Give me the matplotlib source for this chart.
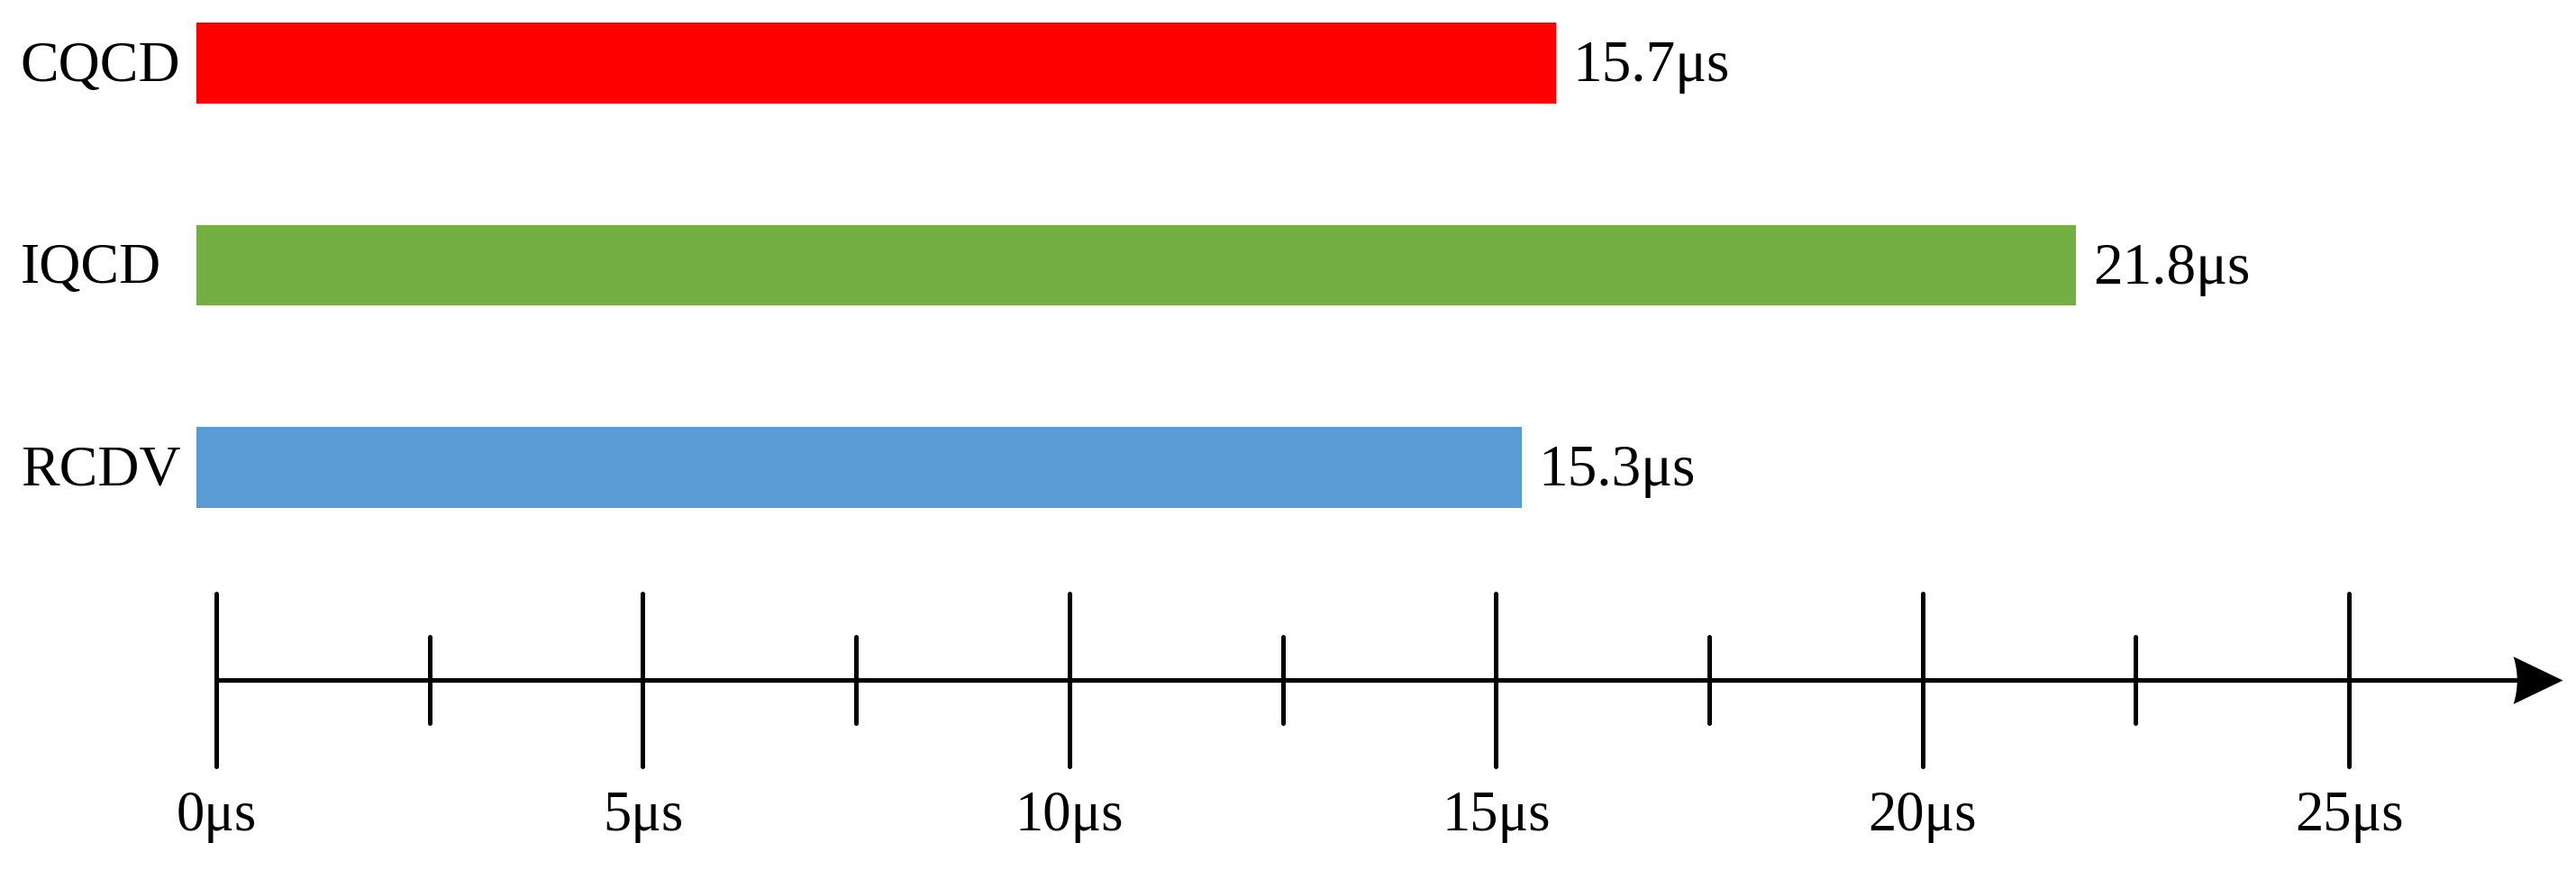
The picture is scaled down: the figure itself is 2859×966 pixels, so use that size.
import matplotlib
matplotlib.use("Agg")
import matplotlib.pyplot as plt
import matplotlib.transforms as mtransforms
from matplotlib.path import Path
import numpy as np

# data
methods = ["CQCD", "IQCD", "RCDV"]
times_us = [15.7, 21.8, 15.3]
bar_colors = ["#FF0000", "#74AF44", "#5B9BD5"]
major_ticks = [0, 5, 10, 15, 20, 25]
minor_ticks = [2.5, 7.5, 12.5, 17.5, 22.5]
tick_labels = ["0μs", "5μs", "10μs", "15μs", "20μs", "25μs"]
axis_end = 27.5

plt.rcParams["font.family"] = ["Liberation Serif", "DejaVu Serif"]

fig = plt.figure(figsize=(28.59, 9.66), dpi=100)
ax = fig.add_axes([0, 0, 1, 1])
ax.set_xlim(-2.535, 27.66)
ax.set_ylim(3.991, -0.312)
ax.axis("off")

# bars (start a touch left of the zero tick, as in the original)
bar_start = -0.23
y_pos = np.arange(len(methods))
ax.barh(y_pos, np.array(times_us) - bar_start, left=bar_start, height=0.40,
        color=bar_colors, edgecolor="none")

# method names at the far left
trans = mtransforms.blended_transform_factory(ax.transAxes, ax.transData)
for y, name in zip(y_pos, methods):
    ax.text(0.008, y + 0.02, name, transform=trans, ha="left", va="center",
            fontsize=46)

# value labels
for y, v in zip(y_pos, times_us):
    ax.text(v + 0.2, y + 0.02, f"{v:.1f}μs", ha="left", va="center", fontsize=47)

# time axis with arrow
axis_y = 3.051
lw = 3.6
ax.plot([0, axis_end - 0.3], [axis_y, axis_y], color="black", lw=lw,
        solid_capstyle="butt")
ax.vlines(major_ticks, axis_y - 0.428, axis_y + 0.428, color="black", lw=lw,
          capstyle="round")
ax.vlines(minor_ticks, axis_y - 0.214, axis_y + 0.214, color="black", lw=lw,
          capstyle="round")

head = Path([(0, 0), (-1, 0.48), (-0.85, 0), (-1, -0.48), (0, 0)],
            [Path.MOVETO, Path.LINETO, Path.CURVE3, Path.CURVE3, Path.CLOSEPOLY])
ax.plot([axis_end], [axis_y], marker=head, markersize=79, color="black",
        markeredgewidth=0)

for t, lab in zip(major_ticks, tick_labels):
    ax.text(t, 3.73, lab, ha="center", va="center", fontsize=45)

fig.savefig("out.png", dpi=100, facecolor="white")
